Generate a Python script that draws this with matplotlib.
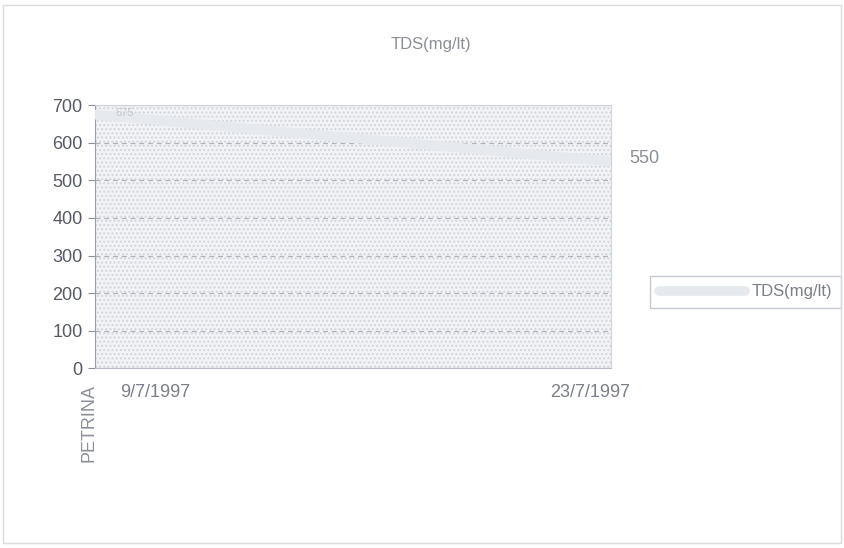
import matplotlib.pyplot as plt

plt.rcParams['font.family'] = ['Liberation Sans', 'DejaVu Sans']

dates = ["9/7/1997", "23/7/1997"]
tds = [675, 550]
station = "PETRINA"

fig = plt.figure(figsize=(8.44, 5.48), dpi=100)
fig.patch.set_facecolor("white")
ax = fig.add_axes([0.112, 0.328, 0.612, 0.48])

ax.set_facecolor("#f2f3f6")
bg = plt.Rectangle((0, 0), 1, 1, transform=ax.transAxes, facecolor="none",
                   edgecolor="#d2d5db", hatch="....", linewidth=0, zorder=0)
ax.add_patch(bg)

x = list(range(len(dates)))
line, = ax.plot(x, tds, color="#e6e9ee", linewidth=7, solid_capstyle="round",
                zorder=3, label="TDS(mg/lt)")
ax.text(x[0] + 0.04, tds[0] + 5, str(tds[0]), fontsize=8, color="#c4c8ce", va="center")
ax.text(x[1] + 0.035, tds[1] + 8, str(tds[1]), fontsize=13, color="#8a8f98", va="center")

ax.set_xlim(0, 1)
ax.set_ylim(0, 700)
ax.set_yticks(range(0, 701, 100))
ax.set_xticks(x)
ax.set_xticklabels([])
ax.tick_params(axis="y", colors="#8a8f98", labelsize=13, length=5)
ax.tick_params(axis="x", length=0)
for lbl in ax.get_yticklabels():
    lbl.set_color("#555a63")
ax.yaxis.grid(True, linestyle=(0, (4, 3)), color="#aeb3bb", linewidth=0.9)
ax.set_axisbelow(True)
for side in ["top", "right"]:
    ax.spines[side].set_color("#cfd3d9")
ax.spines["left"].set_color("#9aa0a8")
ax.spines["bottom"].set_color("#b8bcc4")

ax.text(0.05, -0.06, dates[0], transform=ax.transAxes, fontsize=13,
        color="#7a7f88", ha="left", va="top")
ax.text(0.96, -0.06, dates[1], transform=ax.transAxes, fontsize=13,
        color="#7a7f88", ha="center", va="top")
ax.text(-0.01, -0.06, station, transform=ax.transAxes, fontsize=13,
        color="#8a8f98", ha="center", va="top", rotation=90)

fig.text(0.51, 0.918, "TDS(mg/lt)", fontsize=12, color="#8a8f98", ha="center", va="center")

leg = ax.legend(handles=[line], loc="center left", bbox_to_anchor=(1.06, 0.29),
                frameon=True, fontsize=12, handlelength=5.2, fancybox=False,
                borderpad=0.5, handletextpad=0.4)
leg.get_frame().set_edgecolor("#b8bcc4")
for t in leg.get_texts():
    t.set_color("#7a7f88")

border = plt.Rectangle((0.004, 0.01), 0.992, 0.98, transform=fig.transFigure,
                       fill=False, edgecolor="#d8dbe0", linewidth=1)
fig.patches.append(border)

fig.savefig("out.png", dpi=100)
